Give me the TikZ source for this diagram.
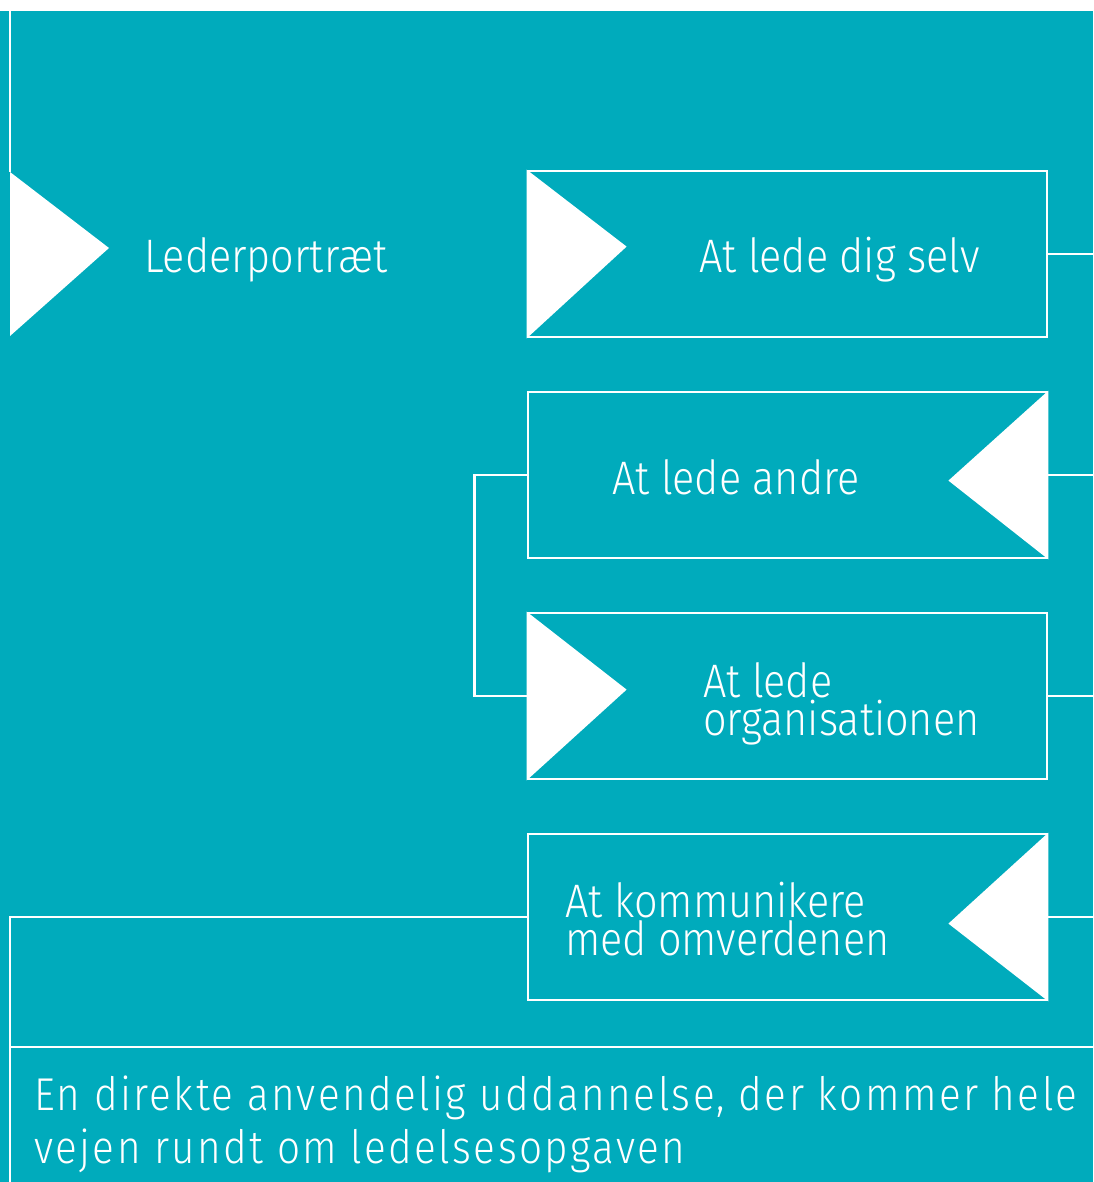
\documentclass[tikz,border=0pt]{standalone}
\usepackage{fontspec}
\setmainfont{Fira Sans Light}
\usetikzlibrary{calc}
\definecolor{bgteal}{RGB}{0,171,188}
\tikzset{
  wline/.style={draw=white,line width=2.8pt},
  stepbox/.style={wline,rectangle,minimum width=519pt,minimum height=166pt,inner sep=0pt},
  lbl/.style={text=white,font=\fontsize{47}{38}\selectfont\addfontfeature{FakeStretch=0.88},inner sep=0pt,anchor=base west},
  foot/.style={text=white,font=\fontsize{46}{53}\selectfont\addfontfeature{FakeStretch=0.88,LetterSpace=5.2},inner sep=0pt,anchor=base west},
  tri/.style={fill=white}
}
\begin{document}
\begin{tikzpicture}[x=1pt,y=-1pt]
\useasboundingbox (0,0) rectangle (1093,1182);
\fill[white] (0,0) rectangle (1093,1182);
\fill[bgteal] (0,11) rectangle (1093,1182);
\coordinate (topleft) at (10,11);
\coordinate (rightedge) at (1093,0);
\coordinate (bottomleft) at (10,1182);
% left triangle
\coordinate (lt1) at (10,172);
\coordinate (lt2) at (10,336);
\coordinate (lt3) at (109,248);
\fill[tri] (lt1) -- (lt2) -- (lt3) -- cycle;
\draw[wline] (topleft) -- (lt1);
\node[lbl] (lp) at (144,272) {Lederportræt};
% boxes
\node[stepbox] (b1) at (787.5,254) {};
\node[stepbox] (b2) at (787.5,475) {};
\node[stepbox] (b3) at (787.5,696) {};
\node[stepbox] (b4) at (787.5,917) {};
\fill[tri] (b1.north west) -- (b1.south west) -- ($(b1.north west)+(100,77)$) -- cycle;
\fill[tri] (b2.north east) -- (b2.south east) -- ($(b2.north east)+(-100,90)$) -- cycle;
\fill[tri] (b3.north west) -- (b3.south west) -- ($(b3.north west)+(100,78)$) -- cycle;
\fill[tri] (b4.north east) -- (b4.south east) -- ($(b4.north east)+(-100,91)$) -- cycle;
\node[lbl] (t1) at (699,272) {At lede dig selv};
\node[lbl] (t2) at (612,494) {At lede andre};
\node[lbl] (t3a) at (703,697) {At lede};
\node[lbl] (t3b) at (703,735) {organisationen};
\node[lbl] (t4a) at (565,917) {At kommunikere};
\node[lbl] (t4b) at (565,955) {med omverdenen};
% connectors
\draw[wline] (b1.east) -- (b1.east -| rightedge);
\draw[wline] (b2.east) -- (b2.east -| rightedge);
\draw[wline] (b3.east) -- (b3.east -| rightedge);
\draw[wline] (b4.east) -- (b4.east -| rightedge);
\draw[wline] (b2.west) -- ++(-52,0) |- (b3.west);
\draw[wline] (b4.west) -| (bottomleft);
\coordinate (footl) at (10,1047);
\draw[wline] (footl) -- (footl -| rightedge);
\node[foot] (f1) at (34,1110) {En direkte anvendelig uddannelse, der kommer hele};
\node[foot] (f2) at (34,1163) {vejen rundt om ledelsesopgaven};
\end{tikzpicture}
\end{document}
